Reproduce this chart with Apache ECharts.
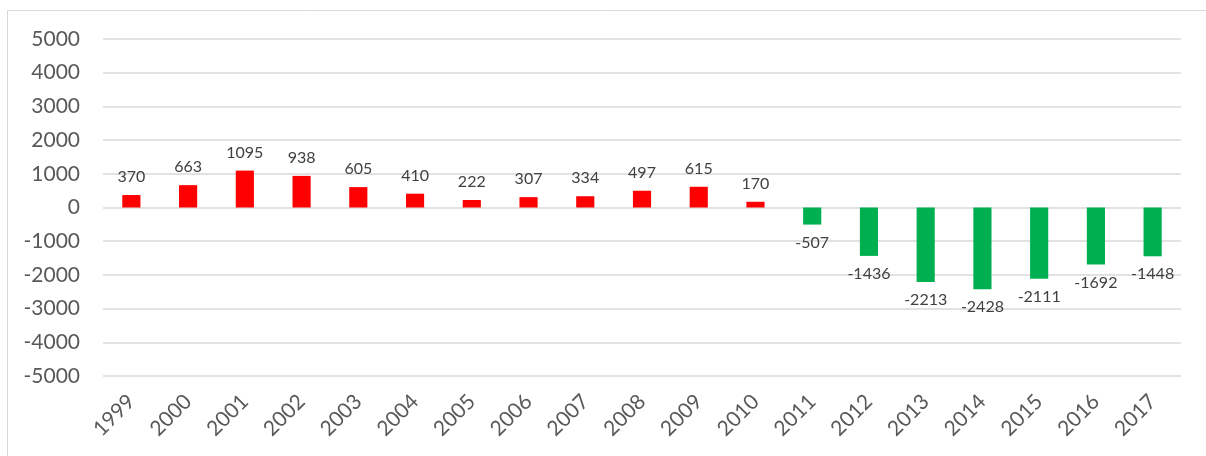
<!DOCTYPE html>
<html>
<head>
<meta charset="utf-8">
<script src="https://cdn.jsdelivr.net/npm/echarts@6/dist/echarts.min.js"></script>
<style>
html,body{margin:0;padding:0;background:#fff;}
#c{width:1206px;height:456px;}
</style>
</head>
<body>
<div id="c"></div>
<script>
const years = ['1999','2000','2001','2002','2003','2004','2005','2006','2007','2008','2009','2010','2011','2012','2013','2014','2015','2016','2017'];
const values = [370,663,1095,938,605,410,222,307,334,497,615,170,-507,-1436,-2213,-2428,-2111,-1692,-1448];
const yMin = -5000, yMax = 5000, yStep = 1000;
const posColor = '#FF0000', negColor = '#00B050';

const chart = echarts.init(document.getElementById('c'), null, {renderer:'canvas'});
chart.setOption({
  animation:false,
  backgroundColor:'#fff',
  graphic:[{type:'rect', shape:{x:7.5,y:10.5,width:1400,height:600}, style:{fill:'none', stroke:'#d9d9d9', lineWidth:1}, silent:true}],
  grid:{left:103, right:25, top:39, bottom:80, containLabel:false},
  xAxis:{
    type:'category', data:years,
    axisLine:{show:false}, axisTick:{show:false},
    axisLabel:{rotate:45, margin:22, color:'#595959', fontFamily:'Lato', fontSize:21, interval:0}
  },
  yAxis:{
    type:'value', min:yMin, max:yMax, interval:yStep,
    axisLine:{show:false}, axisTick:{show:false},
    splitLine:{lineStyle:{color:'#d9d9d9', width:1.5}},
    axisLabel:{color:'#595959', fontFamily:'Lato', fontSize:21, margin:23, formatter: v => String(v)}
  },
  series:[{
    type:'bar', barWidth:'32%',
    data: values.map(v => ({
      value:v,
      itemStyle:{color: v >= 0 ? posColor : negColor},
      label:{position: v >= 0 ? 'top' : 'bottom'}
    })),
    label:{show:true, color:'#404040', fontFamily:'Lato', fontSize:16, distance:10}
  }]
});
</script>
</body>
</html>
